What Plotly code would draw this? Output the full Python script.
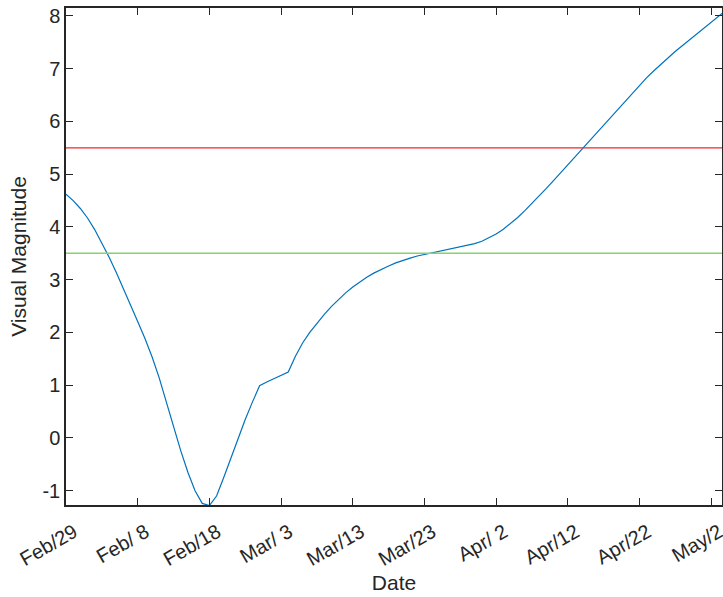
import plotly.graph_objects as go

# Days since the first tick (Feb/29 label)
days = list(range(0, 93))
magnitude = [
    4.62, 4.50, 4.35, 4.17, 3.95, 3.70, 3.43, 3.14, 2.84, 2.53,
    2.21, 1.89, 1.54, 1.14, 0.70, 0.22, -0.24, -0.65, -1.00, -1.24,
    -1.28, -1.10, -0.75, -0.38, -0.02, 0.35, 0.68, 0.99, 1.06, 1.12,
    1.18, 1.25, 1.55, 1.80, 2.00, 2.18, 2.34, 2.49, 2.63, 2.75,
    2.86, 2.96, 3.05, 3.13, 3.20, 3.26, 3.32, 3.37, 3.41, 3.45,
    3.48, 3.51, 3.54, 3.565, 3.59, 3.62, 3.65, 3.685, 3.73, 3.79,
    3.865, 3.955, 4.06, 4.18, 4.31, 4.445, 4.585, 4.73, 4.88, 5.03,
    5.185, 5.34, 5.495, 5.65, 5.80, 5.95, 6.10, 6.25, 6.40, 6.545,
    6.69, 6.83, 6.96, 7.09, 7.21, 7.33, 7.44, 7.55, 7.66, 7.77,
    7.88, 7.99, 8.10,
]

tick_days = [0, 10, 20, 30, 40, 50, 60, 70, 80, 90]
tick_labels = ["Feb/29", "Feb/ 8", "Feb/18", "Mar/ 3", "Mar/13",
               "Mar/23", "Apr/ 2", "Apr/12", "Apr/22", "May/2"]
y_ticks = [-1, 0, 1, 2, 3, 4, 5, 6, 7, 8]
y_tick_labels = ["-1", "0", "1", "2", "3", "4", "5", "6", "7", "8"]

naked_eye_limit = 5.5
binocular_limit = 3.5
x_range = [0, 91.5]
y_range = [-1.27, 8.15]

FONT = "Liberation Sans, Arial, sans-serif"

fig = go.Figure()
fig.add_trace(go.Scatter(x=days, y=magnitude, mode="lines",
                         line=dict(color="#0072BD", width=1.2),
                         showlegend=False, hoverinfo="skip"))
fig.add_trace(go.Scatter(x=x_range, y=[naked_eye_limit] * 2, mode="lines",
                         line=dict(color="#F0262A", width=1.2),
                         showlegend=False, hoverinfo="skip"))
fig.add_trace(go.Scatter(x=x_range, y=[binocular_limit] * 2, mode="lines",
                         line=dict(color="#86D36B", width=1.5),
                         showlegend=False, hoverinfo="skip"))

axis_common = dict(
    showgrid=False, zeroline=False, showline=True, linecolor="#262626",
    linewidth=1.5, mirror="ticks", ticks="inside", ticklen=7, tickwidth=1,
    tickcolor="#262626", automargin=False,
    tickfont=dict(family=FONT, size=20, color="#262626"),
)

fig.update_layout(
    width=723, height=597,
    margin=dict(l=66, r=1, t=8, b=92),
    paper_bgcolor="white", plot_bgcolor="white",
    xaxis=dict(range=x_range, tickvals=tick_days, ticktext=tick_labels,
               tickangle=-30, ticklabelstandoff=6, ticklabelshift=8,
               ticklabeloverflow="allow",
               title=dict(text="Date", standoff=6,
                          font=dict(family=FONT, size=21, color="#262626")),
               **axis_common),
    yaxis=dict(range=y_range, tickvals=y_ticks, ticktext=y_tick_labels,
               title=dict(text="Visual Magnitude", standoff=10,
                          font=dict(family=FONT, size=21, color="#262626")),
               **axis_common),
)

fig.write_html("out.html", config={"displayModeBar": False},
               post_script="document.body.style.margin='0';document.body.style.padding='0';")
